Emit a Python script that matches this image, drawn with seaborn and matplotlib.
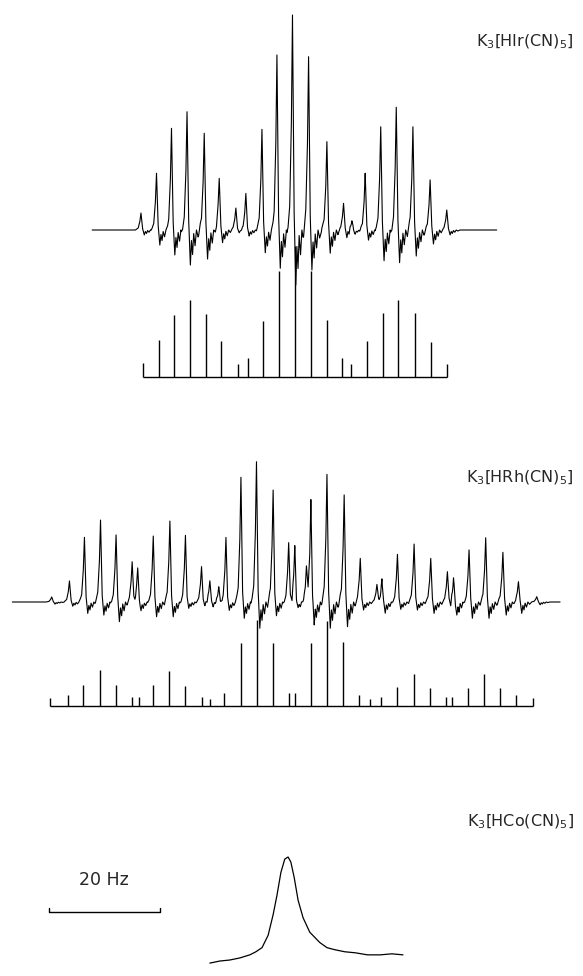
import numpy as np
import matplotlib
matplotlib.use("Agg")
import matplotlib.pyplot as plt
import seaborn as sns

sns.set_theme(style="white")
plt.rcParams["font.family"] = ["DejaVu Sans"]

W, H = 583, 976
PX_PER_HZ = 5.55

# ---- K3[HIr(CN)5] observed spectrum: peak positions (Hz), peak tops and dip depths (rel.)
ir_pos = [-27.7, -24.9, -22.2, -19.4, -16.3, -13.6, -10.6, -8.8, -5.9, -3.2, -0.4,
          2.5, 5.8, 8.8, 10.3, 12.7, 15.5, 18.3, 21.3, 24.4, 27.4]
ir_top = [7.9, 26.4, 47.3, 55.0, 45.0, 24.0, 10.2, 17.1, 46.8, 81.4, 100,
          80.6, 41.1, 12.4, 5.6, 26.4, 48.0, 57.1, 48.0, 23.3, 9.3]
ir_dip = [2.3, 7.0, 11.6, 16.3, 13.5, 5.9, 1.3, 2.8, 10.6, 17.8, 25.6,
          18.6, 10.8, 3.7, 1.4, 4.7, 14.3, 15.2, 12.1, 6.5, 2.3]
ir_range = [-36.5, 36.4]

# ---- K3[HIr(CN)5] calculated stick spectrum
ir_stick_pos = [-27.4, -24.5, -21.7, -18.9, -16.0, -13.2, -10.3, -8.5, -5.7, -2.9, 0.0,
                2.9, 5.8, 8.6, 10.2, 13.0, 15.9, 18.7, 21.6, 24.6, 27.4]
ir_stick_h = [10.3, 28.1, 47.2, 58.7, 48.0, 27.3, 9.5, 14.1, 42.8, 80.9, 100,
              80.9, 43.4, 14.1, 9.5, 27.3, 48.5, 58.7, 48.5, 26.8, 9.5]

# ---- K3[HRh(CN)5] observed spectrum
rh_pos = [-43.3, -40.1, -37.4, -34.5, -31.7, -28.8, -27.8, -25.0, -22.0, -19.2, -16.3,
          -14.8, -13.2, -11.9, -9.2, -6.4, -3.4, -0.6, 0.5, 2.6, 3.4, 6.3, 9.4, 12.3,
          15.3, 16.2, 19.0, 22.0, 25.0, 28.0, 29.1, 31.9, 34.9, 38.0, 40.8, 44.1]
rh_top = [3.6, 15.0, 46.1, 58.4, 47.8, 28.7, 26.4, 47.0, 57.7, 47.5, 25.2,
          16.2, 11.4, 46.5, 88.9, 100, 79.8, 42.3, 41.8, 22.8, 73.9, 91.0, 76.3, 31.1,
          12.1, 18.0, 34.0, 41.3, 31.1, 21.6, 19.2, 37.1, 45.8, 35.4, 14.5, 3.8]
rh_dip = [1.5, 3.0, 8.1, 9.3, 14.0, 3.0, 5.7, 10.5, 10.5, 4.5, 3.0,
          3.0, 2.0, 5.7, 11.6, 18.7, 9.8, 4.0, 4.0, 3.0, 15.2, 18.7, 17.6, 5.7,
          3.0, 6.9, 5.2, 5.7, 8.1, 5.0, 9.3, 11.6, 11.6, 9.3, 8.1, 2.0]
rh_range = [-50.4, 48.3]

# ---- K3[HRh(CN)5] calculated stick spectrum
rh_stick_pos = [-43.6, -40.4, -37.7, -34.6, -31.8, -28.8, -27.6, -25.0, -22.1, -19.2, -16.3,
                -14.8, -12.2, -9.2, -6.3, -3.4, -0.5, 0.5, 3.4, 6.3, 9.2, 12.1, 14.1,
                16.0, 19.0, 21.9, 24.8, 27.7, 28.8, 31.7, 34.6, 37.4, 40.4, 43.4]
rh_stick_h = [9.3, 12.8, 24.4, 41.9, 24.4, 10.5, 10.5, 24.4, 40.7, 23.6, 10.5,
              8.0, 15.5, 72.9, 100, 72.9, 14.8, 14.8, 72.9, 99.2, 74.1, 12.8, 8.0,
              10.5, 21.7, 37.2, 20.6, 10.5, 10.5, 20.6, 37.2, 20.6, 12.8, 9.3]

# ---- K3[HCo(CN)5] observed (single broad line), Hz from line centre, fraction of peak
co_x = [-13.9, -12.1, -10.3, -8.5, -6.7, -5.6, -4.5, -3.4, -2.5, -1.8, -1.1, -0.4, 0.2,
        0.7, 1.3, 2.0, 2.9, 4.1, 5.9, 7.2, 8.6, 10.4, 12.3, 14.5, 16.8, 18.9, 20.9]
co_y = [-0.03, -0.01, 0.0, 0.02, 0.05, 0.08, 0.12, 0.24, 0.44, 0.63, 0.85, 0.98, 1.0,
        0.95, 0.80, 0.58, 0.41, 0.27, 0.17, 0.12, 0.10, 0.08, 0.07, 0.05, 0.05, 0.06, 0.05]

labels = [r"K$_3$[HIr(CN)$_5$]", r"K$_3$[HRh(CN)$_5$]", r"K$_3$[HCo(CN)$_5$]"]
scale_hz = 20

# line shape of one recorded resonance (pen trace): offset (Hz), fraction of top, fraction of dip
SHAPE = [(-1.0, 0.0, 0.0), (-0.5, 0.12, 0.0), (-0.2, 0.5, 0.0), (0.0, 1.0, 0.0),
         (0.3, 0.08, 0.0), (0.6, 0.0, 1.0), (0.8, 0.0, 0.3), (1.0, 0.0, 0.7),
         (1.2, 0.0, 0.1), (1.45, 0.0, 0.45), (1.7, 0.0, 0.0), (2.0, 0.0, 0.2), (2.4, 0.0, 0.0)]

fig = plt.figure(figsize=(W / 100, H / 100), dpi=100)


def panel(center_px, base_px, px_per_unit, top_px, bottom_px):
    ax = fig.add_axes([0, 1 - bottom_px / H, 1, (bottom_px - top_px) / H])
    ax.set_xlim(-center_px / PX_PER_HZ, (W - center_px) / PX_PER_HZ)
    ax.set_ylim(-(bottom_px - base_px) / px_per_unit, (base_px - top_px) / px_per_unit)
    ax.axis("off")
    return ax


def trace(ax, pos, top, dip, xr):
    dx = np.array([s[0] for s in SHAPE])
    xs = [xr[0], xr[1]]
    for p in pos:
        xs.extend(p + dx)
    xs = np.unique(np.clip(xs, xr[0], xr[1]))
    ys = np.zeros_like(xs)
    for p, t, d in zip(pos, top, dip):
        prof = np.array([s[1] * t - s[2] * d for s in SHAPE])
        ys += np.interp(xs, p + dx, prof, left=0, right=0)
    sns.lineplot(x=xs, y=ys, ax=ax, color="black", lw=0.8, estimator=None, sort=False)


def sticks(ax, pos, h):
    ax.vlines(pos, 0, h, color="black", lw=1.0)
    ax.hlines(0, min(pos), max(pos), color="black", lw=1.0)


ax = panel(294.7, 230, 2.15, 0, 300)
trace(ax, ir_pos, ir_top, ir_dip, ir_range)
ax = panel(294.7, 376.7, 1.307, 200, 390)
sticks(ax, ir_stick_pos, ir_stick_h)

ax = panel(292, 602, 1.403, 420, 650)
trace(ax, rh_pos, rh_top, rh_dip, rh_range)
ax = panel(292, 706, 0.86, 600, 720)
sticks(ax, rh_stick_pos, rh_stick_h)

ax = panel(287, 960, 1.03, 840, 976)
sns.lineplot(x=co_x, y=[v * 100 for v in co_y], ax=ax, color="black", lw=0.9,
             estimator=None, sort=False)
# 20 Hz scale bar with small end ticks
x0 = -287 / PX_PER_HZ + 48.5 / PX_PER_HZ
yb = (960 - 912) / 1.03
ax.plot([x0, x0, x0 + scale_hz, x0 + scale_hz], [yb + 4, yb, yb, yb + 4], color="black", lw=1.0)
ax.text(x0 + scale_hz / 2, (960 - 880) / 1.03, f"{scale_hz} Hz", ha="center", va="center",
        fontsize=12.5)

txt = fig.add_axes([0, 0, 1, 1])
txt.set_xlim(0, W)
txt.set_ylim(H, 0)
txt.axis("off")
for lab, y in zip(labels, [42, 478, 822]):
    txt.text(574, y, lab, ha="right", va="center", fontsize=11.5)

fig.savefig("out.png", dpi=100)
